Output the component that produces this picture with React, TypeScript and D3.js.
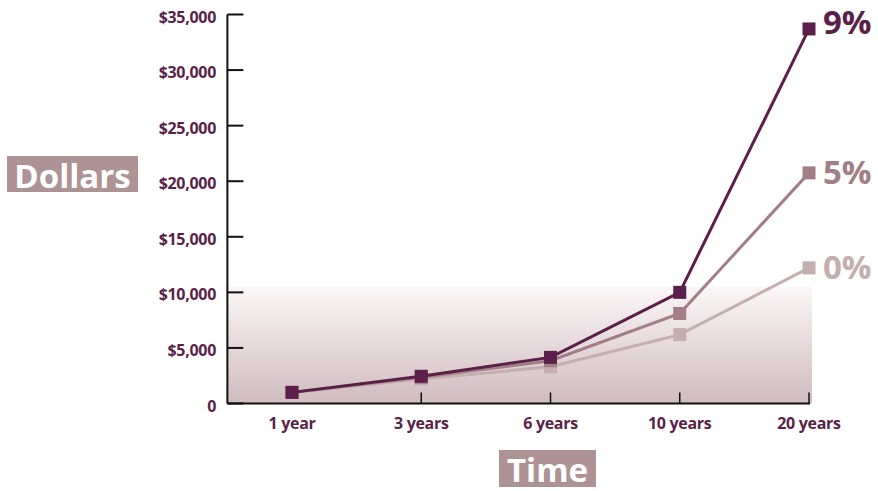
import * as d3 from "d3";

const W = 878;
const H = 491;

const periods = ["1 year", "3 years", "6 years", "10 years", "20 years"];
const yTicks = [0, 5000, 10000, 15000, 20000, 25000, 30000, 35000];

const rate0 = [1000, 2200, 3300, 6200, 12200];
const rate5 = [1000, 2350, 3850, 8100, 20750];
const rate9 = [1000, 2450, 4150, 10000, 33700];

const seriesList = [
  { name: "0%", values: rate0, color: "#c4aeae", dy: -1 },
  { name: "5%", values: rate5, color: "#a27f86", dy: -1 },
  { name: "9%", values: rate9, color: "#5b1f4a", dy: -7 },
];

const TEXT = "#5b1f4a";
const FONT = "'Open Sans', 'DejaVu Sans', sans-serif";

export default function App() {
  const x = d3.scalePoint<string>().domain(periods).range([292, 809]);
  const step = x.step();
  const x0 = (x(periods[0]) as number) - step / 2;
  const xEnd = x(periods[periods.length - 1]) as number;

  const y = d3.scaleLinear().domain([0, 35000]).range([403.5, 14.5]);

  const line = d3
    .line<number>()
    .x((_, i) => x(periods[i]) as number)
    .y((d) => y(d));

  return (
    <svg
      width={W}
      height={H}
      style={{ position: "absolute", left: 0, top: 0, fontFamily: FONT }}
    >
      <defs>
        <linearGradient id="bg" x1="0" y1="0" x2="0" y2="1">
          <stop offset="0%" stopColor="#fbf6f7" />
          <stop offset="100%" stopColor="#cfbcbf" />
        </linearGradient>
      </defs>

      {/* shaded band */}
      <rect
        x={x0}
        y={y(10500)}
        width={xEnd + 3 - x0}
        height={y(0) - y(10500)}
        fill="url(#bg)"
      />

      {/* y axis */}
      <line x1={x0} x2={x0} y1={y(35000)} y2={y(0)} stroke="#111" strokeWidth={2} />
      {yTicks.map((t) => (
        <g key={t}>
          <line x1={x0} x2={x0 + 16} y1={y(t)} y2={y(t)} stroke="#111" strokeWidth={2} />
          <text
            x={216}
            y={y(t) + 2}
            textAnchor="end"
            dominantBaseline="central"
            fontSize={16}
            fontWeight="bold"
            fill={TEXT}
            letterSpacing={-0.3}
          >
            {t === 0 ? "0" : d3.format("$,")(t)}
          </text>
        </g>
      ))}

      {/* x axis */}
      <line x1={x0} x2={xEnd + 1} y1={y(0)} y2={y(0)} stroke="#111" strokeWidth={2} />
      {periods.map((p, i) => (
        <g key={p}>
          {i > 0 && (
            <line
              x1={x(p) as number}
              x2={x(p) as number}
              y1={y(0)}
              y2={y(0) - 11}
              stroke="#111"
              strokeWidth={1.5}
            />
          )}
          <text
            x={x(p) as number}
            y={423}
            textAnchor="middle"
            dominantBaseline="central"
            fontSize={16}
            fontWeight="bold"
            fill={TEXT}
            letterSpacing={-0.3}
          >
            {p}
          </text>
        </g>
      ))}

      {/* series */}
      {seriesList.map((s) => (
        <g key={s.name}>
          <path d={line(s.values) ?? ""} fill="none" stroke={s.color} strokeWidth={3} />
          {s.values.map((v, i) => (
            <rect
              key={i}
              x={(x(periods[i]) as number) - 6.5}
              y={y(v) - 6.5}
              width={13}
              height={13}
              fill={s.color}
            />
          ))}
          <text
            x={xEnd + 14}
            y={y(s.values[s.values.length - 1]) + s.dy}
            dominantBaseline="central"
            fontSize={33}
            fontWeight="bold"
            fill={s.color}
          >
            {s.name}
          </text>
        </g>
      ))}

      {/* axis titles */}
      <rect x={7} y={156} width={131} height={36} fill="#ae9395" />
      <text
        x={72.5}
        y={175}
        textAnchor="middle"
        dominantBaseline="central"
        fontSize={33}
        fontWeight="bold"
        fill="#fff"
      >
        Dollars
      </text>
      <rect x={499} y={450} width={97} height={37} fill="#ae9395" />
      <text
        x={547.5}
        y={469}
        textAnchor="middle"
        dominantBaseline="central"
        fontSize={33}
        fontWeight="bold"
        fill="#fff"
      >
        Time
      </text>
    </svg>
  );
}
